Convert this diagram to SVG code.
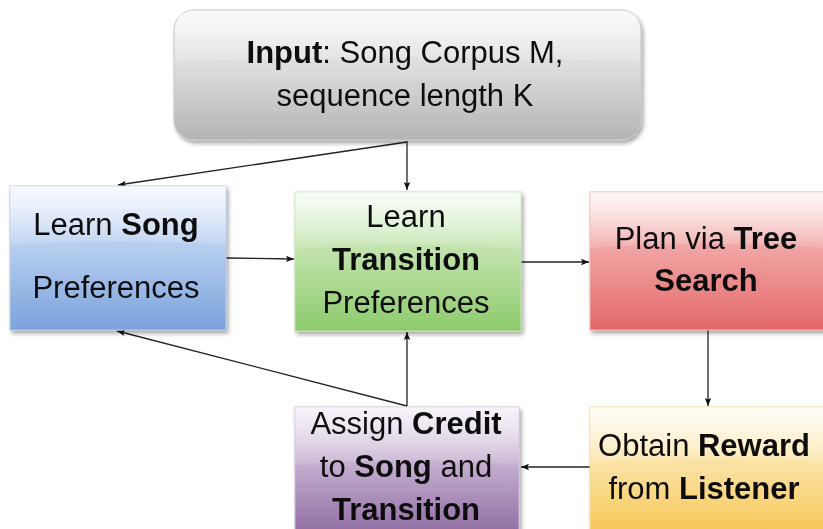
<svg xmlns="http://www.w3.org/2000/svg" width="823" height="529" viewBox="0 0 823 529">
<defs>
<linearGradient id="gGray" x1="0" y1="0" x2="0" y2="1"><stop offset="0" stop-color="#f4f4f4"/><stop offset="0.45" stop-color="#dcdcdc"/><stop offset="1" stop-color="#b4b4b4"/></linearGradient>
<linearGradient id="gBlue" x1="0" y1="0" x2="0" y2="1"><stop offset="0" stop-color="#eef4fc"/><stop offset="0.4" stop-color="#b9cff0"/><stop offset="1" stop-color="#7aa3dc"/></linearGradient>
<linearGradient id="gGreen" x1="0" y1="0" x2="0" y2="1"><stop offset="0" stop-color="#f3faef"/><stop offset="0.4" stop-color="#c2e3ad"/><stop offset="1" stop-color="#8dcb6c"/></linearGradient>
<linearGradient id="gRed" x1="0" y1="0" x2="0" y2="1"><stop offset="0" stop-color="#fdeeee"/><stop offset="0.4" stop-color="#f1a5a5"/><stop offset="1" stop-color="#e46868"/></linearGradient>
<linearGradient id="gPurple" x1="0" y1="0" x2="0" y2="1"><stop offset="0" stop-color="#f1eaf4"/><stop offset="0.45" stop-color="#c3acce"/><stop offset="1" stop-color="#8d6aa0"/></linearGradient>
<linearGradient id="gYellow" x1="0" y1="0" x2="0" y2="1"><stop offset="0" stop-color="#fefaee"/><stop offset="0.45" stop-color="#fbe2a2"/><stop offset="1" stop-color="#f5c552"/></linearGradient>
<linearGradient id="gloss" x1="0" y1="0" x2="0" y2="1"><stop offset="0" stop-color="#ffffff" stop-opacity="0.5"/><stop offset="1" stop-color="#ffffff" stop-opacity="0.12"/></linearGradient>
<filter id="sh" x="-5%" y="-5%" width="115%" height="120%"><feGaussianBlur in="SourceAlpha" stdDeviation="2"/><feOffset dx="2" dy="3"/><feComponentTransfer><feFuncA type="linear" slope="0.35"/></feComponentTransfer><feMerge><feMergeNode/><feMergeNode in="SourceGraphic"/></feMerge></filter>
<marker id="ah" viewBox="0 0 10 10" refX="10" refY="5" markerWidth="9" markerHeight="8" markerUnits="userSpaceOnUse" orient="auto"><path d="M0,1 L10,5 L0,9 L2,5 z" fill="#111"/></marker>
</defs>
<style>
text{font-family:"Liberation Sans",Arial,sans-serif;font-size:31px;fill:#111;text-anchor:middle}
.b{font-weight:bold}
.c{fill:none;stroke:#222;stroke-width:1.3}
</style>
<rect width="823" height="529" fill="#ffffff"/>
<g id="connectors">
<line class="c" x1="407" y1="141" x2="407" y2="190" marker-end="url(#ah)"/>
<line class="c" x1="407" y1="142" x2="118" y2="185" marker-end="url(#ah)"/>
<line class="c" x1="226" y1="258" x2="294" y2="259" marker-end="url(#ah)"/>
<line class="c" x1="521" y1="262" x2="589" y2="262" marker-end="url(#ah)"/>
<line class="c" x1="708" y1="330" x2="708" y2="406" marker-end="url(#ah)"/>
<line class="c" x1="590" y1="467" x2="521" y2="467" marker-end="url(#ah)"/>
<line class="c" x1="407" y1="406" x2="407" y2="332" marker-end="url(#ah)"/>
<line class="c" x1="407" y1="406" x2="117" y2="331" marker-end="url(#ah)"/>
</g>
<g id="input" filter="url(#sh)">
<rect x="174" y="10" width="467" height="130" rx="20" fill="url(#gGray)" stroke="#c8c8c8" stroke-width="1"/>
<path d="M175,30 Q175,11 194,11 L621,11 Q640,11 640,30 L640,62 Q407,52 175,62 Z" fill="url(#gloss)"/>
<text x="405" y="63"><tspan class="b">Input</tspan>: Song Corpus M,</text>
<text x="405" y="106">sequence length K</text>
</g>
<g id="learnSong" filter="url(#sh)">
<rect x="10" y="186" width="216" height="144" fill="url(#gBlue)" stroke="#b5c9e8" stroke-width="1"/>
<path d="M10,186 L226,186 L226,246 Q118,236 10,246 Z" fill="url(#gloss)"/>
<text x="116" y="235">Learn <tspan class="b">Song</tspan></text>
<text x="116" y="298">Preferences</text>
</g>
<g id="learnTransition" filter="url(#sh)">
<rect x="295" y="192" width="226" height="139" fill="url(#gGreen)" stroke="#c0e0ae" stroke-width="1"/>
<path d="M295,192 L521,192 L521,249 Q408,240 295,249 Z" fill="url(#gloss)"/>
<text x="406" y="227">Learn</text>
<text x="406" y="270" class="b">Transition</text>
<text x="406" y="313">Preferences</text>
</g>
<g id="plan" filter="url(#sh)">
<rect x="590" y="192" width="240" height="138" fill="url(#gRed)" stroke="#eeb0b0" stroke-width="1"/>
<path d="M590,192 L830,192 L830,248 Q706,240 590,248 Z" fill="url(#gloss)"/>
<text x="706" y="249">Plan via <tspan class="b">Tree</tspan></text>
<text x="706" y="291" class="b">Search</text>
</g>
<g id="assignCredit" filter="url(#sh)">
<rect x="295" y="407" width="224" height="130" fill="url(#gPurple)" stroke="#cdbad6" stroke-width="1"/>
<path d="M295,407 L519,407 L519,465 Q407,456 295,465 Z" fill="url(#gloss)"/>
<text x="406" y="434">Assign <tspan class="b">Credit</tspan></text>
<text x="406" y="477">to <tspan class="b">Song</tspan> and</text>
<text x="406" y="520" class="b">Transition</text>
</g>
<g id="obtainReward" filter="url(#sh)">
<rect x="590" y="407" width="240" height="130" fill="url(#gYellow)" stroke="#f4dc9c" stroke-width="1"/>
<path d="M590,407 L830,407 L830,462 Q706,454 590,462 Z" fill="url(#gloss)"/>
<text x="704" y="456">Obtain <tspan class="b">Reward</tspan></text>
<text x="704" y="499">from <tspan class="b">Listener</tspan></text>
</g>
</svg>
